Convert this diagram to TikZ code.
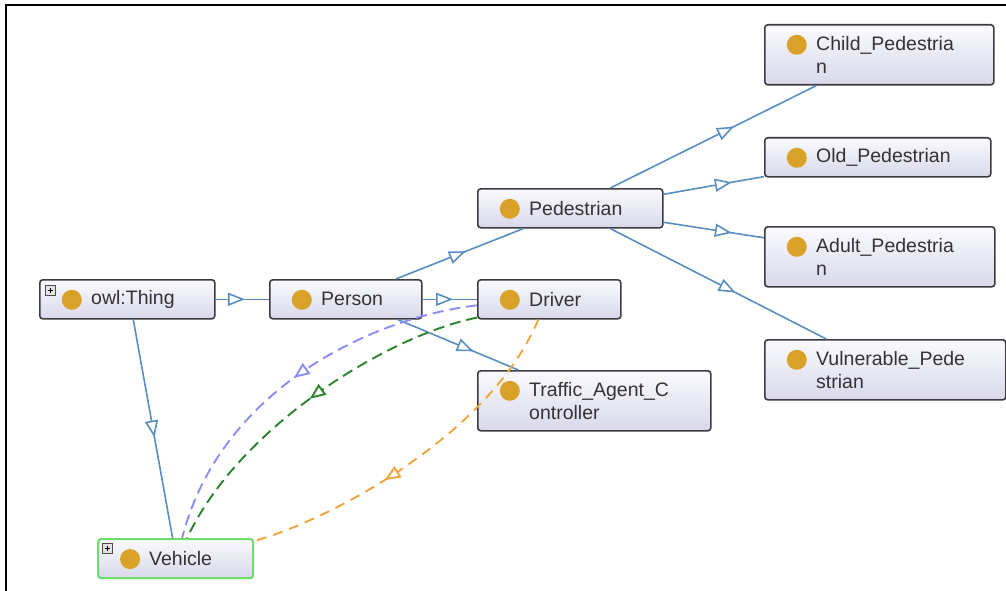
\documentclass[tikz,border=0pt]{standalone}
\usepackage{fontspec}
\setmainfont{Liberation Sans}
\usetikzlibrary{arrows.meta,decorations.markings}

\definecolor{edgeblue}{RGB}{90,142,192}
\definecolor{purp}{RGB}{140,140,245}
\definecolor{grn}{RGB}{45,130,45}
\definecolor{orng}{RGB}{240,165,60}
\definecolor{boxtop}{RGB}{250,250,254}
\definecolor{boxbot}{RGB}{216,216,234}
\definecolor{boxline}{RGB}{60,60,64}
\definecolor{dotc}{RGB}{216,162,40}
\definecolor{textc}{RGB}{50,50,55}
\definecolor{selgreen}{RGB}{110,220,110}

\begin{document}
\begin{tikzpicture}[x=1pt,y=-1pt,
  lbl/.style={anchor=west, xshift=52pt, inner sep=0pt, align=left,
    font=\fontsize{19.5}{23}\selectfont, text=textc},
  cls/.style={draw=boxline, line width=1.6pt, rounded corners=3pt,
    top color=boxtop, bottom color=boxbot, minimum height=39pt,
    inner sep=0pt, anchor=north west,
    path picture={\fill[dotc] ([xshift=32pt,yshift=-20pt]path picture bounding box.north west) circle (10pt);},
    label={[lbl]west:{#1}}},
  tall/.style={minimum height=60pt},
  plusbox/.style={draw=gray!60!black, fill=gray!22, line width=0.6pt,
    minimum size=10pt, inner sep=0pt, anchor=north west,
    path picture={\draw[black, line width=1pt]
      ([xshift=2.5pt]path picture bounding box.west) -- ([xshift=-2.5pt]path picture bounding box.east)
      ([yshift=-2.5pt]path picture bounding box.north) -- ([yshift=2.5pt]path picture bounding box.south);}},
  sub/.style={color=edgeblue, line width=1.6pt,
    postaction={decorate, decoration={markings,
      mark=at position #1 with {\arrow{Triangle[length=17pt,width=13pt,fill=white]}}}}},
  prop/.style={line width=1.9pt, dash pattern=on 11pt off 6pt,
    postaction={decorate, decoration={markings,
      mark=at position #1 with {\arrow{Triangle[length=16pt,width=13pt,fill=white]}}}}}
]
\useasboundingbox (0,0) rectangle (1006,591);
\fill[white] (0,0) rectangle (1006,591);

% frame
\draw[line width=2.4pt, black] (6,591) -- (6,5) -- (1006,5);

% classes
\node[cls={owl:Thing}, minimum width=175pt] (thing) at (39,279) {};
\node[plusbox] (thingplus) at ([xshift=6pt,yshift=-6pt]thing.north west) {};
\node[cls=Person, minimum width=152pt] (person) at (269,279) {};
\node[cls=Driver, minimum width=143pt] (driver) at (477,279) {};
\node[cls=Pedestrian, minimum width=185pt] (ped) at (477,188) {};
\node[cls={Traffic\_Agent\_C\\ontroller}, tall, minimum width=233pt] (traffic) at (477,370) {};
\node[cls={Child\_Pedestria\\n}, tall, minimum width=229pt] (child) at (764,24) {};
\node[cls={Old\_Pedestrian}, minimum width=226pt] (old) at (764,137) {};
\node[cls={Adult\_Pedestria\\n}, tall, minimum width=230pt] (adult) at (764,226) {};
\node[cls={Vulnerable\_Pede\\strian}, tall, minimum width=241pt] (vuln) at (764,339) {};
\node[cls=Vehicle, draw=selgreen, line width=2.2pt, minimum width=155pt] (vehicle) at (97,538) {};
\node[plusbox] (vehplus) at ([xshift=5pt,yshift=-5pt]vehicle.north west) {};

% subclass links
\draw[sub=0.55] (thing.east) -- (person.west);
\draw[sub=0.54] ([xshift=6pt]thing.south) -- ([xshift=-3pt]vehicle.north);
\draw[sub=0.56] (person.east) -- (driver.west);
\draw[sub=0.55] ([xshift=50pt]person.north) -- ([xshift=-47pt]ped.south);
\draw[sub=0.63] ([xshift=52pt]person.south) -- ([xshift=-76pt]traffic.north);
\draw[sub=0.60] ([xshift=40pt]ped.north) -- ([xshift=-63pt]child.south);
\draw[sub=0.68] ([yshift=14pt]ped.east) -- ([yshift=1pt]old.south west);
\draw[sub=0.68] ([yshift=-14pt]ped.east) -- ([yshift=19pt]adult.west);
\draw[sub=0.58] ([xshift=40pt]ped.south) -- ([xshift=-59pt]vuln.north);

% object property arcs, all running from Driver to Vehicle
\draw[prop=0.5, color=purp] ([yshift=-6pt]driver.west)
  .. controls (370,318) and (220,390) .. ([xshift=6.5pt]vehicle.north);
\draw[prop=0.5, color=grn] ([yshift=2pt]driver.south west)
  .. controls (390,335) and (240,425) .. ([xshift=11.5pt]vehicle.north);
\draw[prop=0.61, color=orng, dash pattern=on 10pt off 7pt] ([xshift=-11pt]driver.south)
  .. controls (490,435) and (330,520) .. ([yshift=-3pt]vehicle.north east);
\end{tikzpicture}
\end{document}
